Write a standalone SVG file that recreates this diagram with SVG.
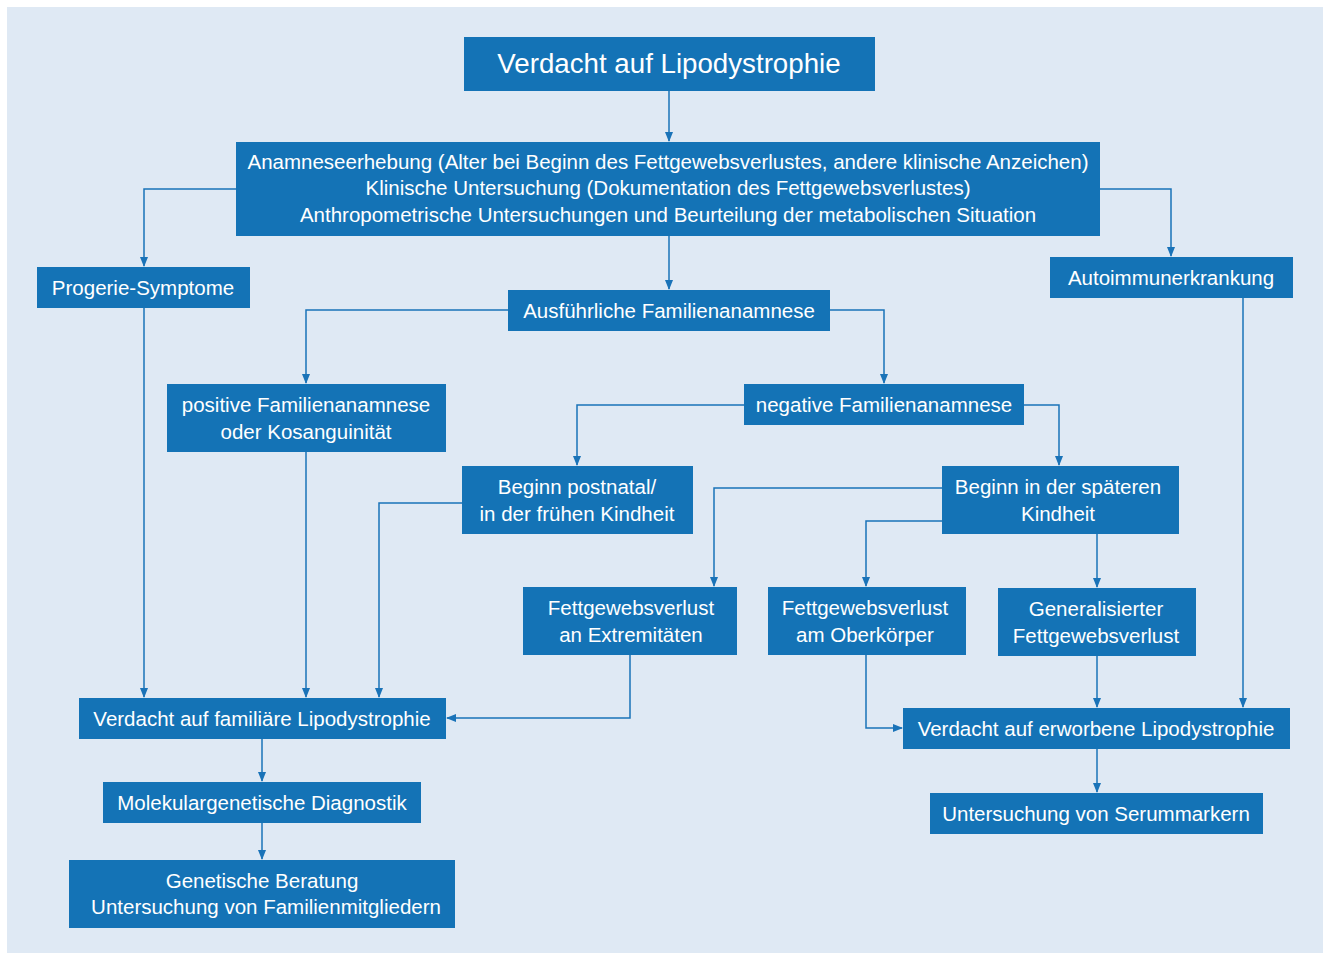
<svg xmlns="http://www.w3.org/2000/svg" width="1323" height="953" viewBox="0 0 1323 953">
<defs>
<marker id="ah" markerWidth="10" markerHeight="8" refX="9" refY="4" orient="auto" markerUnits="userSpaceOnUse">
<path d="M0,0 L10,4 L0,8 Z" fill="#1a73b8"/>
</marker>
<style>
.box{fill:#1473b6}
.t{fill:#ffffff;font-family:"Liberation Sans","Noto Sans",Arial,sans-serif;font-size:20.5px;text-anchor:middle}
.tt{fill:#ffffff;font-family:"Liberation Sans","Noto Sans",Arial,sans-serif;font-size:27.7px;text-anchor:middle}
.c{fill:none;stroke:#1a73b8;stroke-width:1.5;marker-end:url(#ah)}
</style>
</defs>
<rect x="0" y="0" width="1323" height="953" fill="#ffffff"/>
<rect x="7" y="7" width="1316" height="946" fill="#dfe9f4"/>
<g id="connectors">
<path class="c" d="M669,91 V141"/>
<path class="c" d="M236,189 H144 V266"/>
<path class="c" d="M1100,189 H1171 V256"/>
<path class="c" d="M669,236 V289"/>
<path class="c" d="M508,310 H306 V383"/>
<path class="c" d="M830,310 H884 V383"/>
<path class="c" d="M744,405 H577 V465"/>
<path class="c" d="M1024,405 H1059 V465"/>
<path class="c" d="M942,488 H714 V586"/>
<path class="c" d="M942,521 H866 V586"/>
<path class="c" d="M1097,534 V587"/>
<path class="c" d="M144,308 V697"/>
<path class="c" d="M306,452 V697"/>
<path class="c" d="M462,503 H379 V697"/>
<path class="c" d="M630,655 V718 H447"/>
<path class="c" d="M866,655 V728 H902"/>
<path class="c" d="M1097,656 V707"/>
<path class="c" d="M1243,298 V707"/>
<path class="c" d="M262,739 V781"/>
<path class="c" d="M262,823 V859"/>
<path class="c" d="M1097,749 V792"/>
</g>
<g id="n1"><rect class="box" x="464" y="37" width="411" height="54"/><text class="tt" x="669" y="73">Verdacht auf Lipodystrophie</text></g>
<g id="n2"><rect class="box" x="236" y="142" width="864" height="94"/>
<text class="t" x="668" y="169">Anamneseerhebung (Alter bei Beginn des Fettgewebsverlustes, andere klinische Anzeichen)</text>
<text class="t" x="668" y="195">Klinische Untersuchung (Dokumentation des Fettgewebsverlustes)</text>
<text class="t" x="668" y="222">Anthropometrische Untersuchungen und Beurteilung der metabolischen Situation</text></g>
<g id="n3"><rect class="box" x="37" y="267" width="213" height="41"/><text class="t" x="143" y="295">Progerie-Symptome</text></g>
<g id="n4"><rect class="box" x="1050" y="257" width="243" height="41"/><text class="t" x="1171" y="285">Autoimmunerkrankung</text></g>
<g id="n5"><rect class="box" x="508" y="290" width="322" height="41"/><text class="t" x="669" y="318">Ausführliche Familienanamnese</text></g>
<g id="n6"><rect class="box" x="167" y="384" width="279" height="68"/><text class="t" x="306" y="412">positive Familienanamnese</text><text class="t" x="306" y="439">oder Kosanguinität</text></g>
<g id="n7"><rect class="box" x="744" y="384" width="280" height="41"/><text class="t" x="884" y="412">negative Familienanamnese</text></g>
<g id="n8"><rect class="box" x="462" y="466" width="231" height="68"/><text class="t" x="577" y="494">Beginn postnatal/</text><text class="t" x="577" y="521">in der frühen Kindheit</text></g>
<g id="n9"><rect class="box" x="942" y="466" width="237" height="68"/><text class="t" x="1058" y="494">Beginn in der späteren</text><text class="t" x="1058" y="521">Kindheit</text></g>
<g id="n10"><rect class="box" x="523" y="587" width="214" height="68"/><text class="t" x="631" y="615">Fettgewebsverlust</text><text class="t" x="631" y="642">an Extremitäten</text></g>
<g id="n11"><rect class="box" x="768" y="587" width="198" height="68"/><text class="t" x="865" y="615">Fettgewebsverlust</text><text class="t" x="865" y="642">am Oberkörper</text></g>
<g id="n12"><rect class="box" x="998" y="588" width="198" height="68"/><text class="t" x="1096" y="616">Generalisierter</text><text class="t" x="1096" y="643">Fettgewebsverlust</text></g>
<g id="n13"><rect class="box" x="79" y="698" width="367" height="41"/><text class="t" x="262" y="726">Verdacht auf familiäre Lipodystrophie</text></g>
<g id="n14"><rect class="box" x="903" y="708" width="387" height="41"/><text class="t" x="1096" y="736">Verdacht auf erworbene Lipodystrophie</text></g>
<g id="n15"><rect class="box" x="103" y="782" width="318" height="41"/><text class="t" x="262" y="810">Molekulargenetische Diagnostik</text></g>
<g id="n16"><rect class="box" x="930" y="793" width="333" height="41"/><text class="t" x="1096" y="821">Untersuchung von Serummarkern</text></g>
<g id="n17"><rect class="box" x="69" y="860" width="386" height="68"/><text class="t" x="262" y="888">Genetische Beratung</text><text class="t" x="266" y="914">Untersuchung von Familienmitgliedern</text></g>
</svg>
